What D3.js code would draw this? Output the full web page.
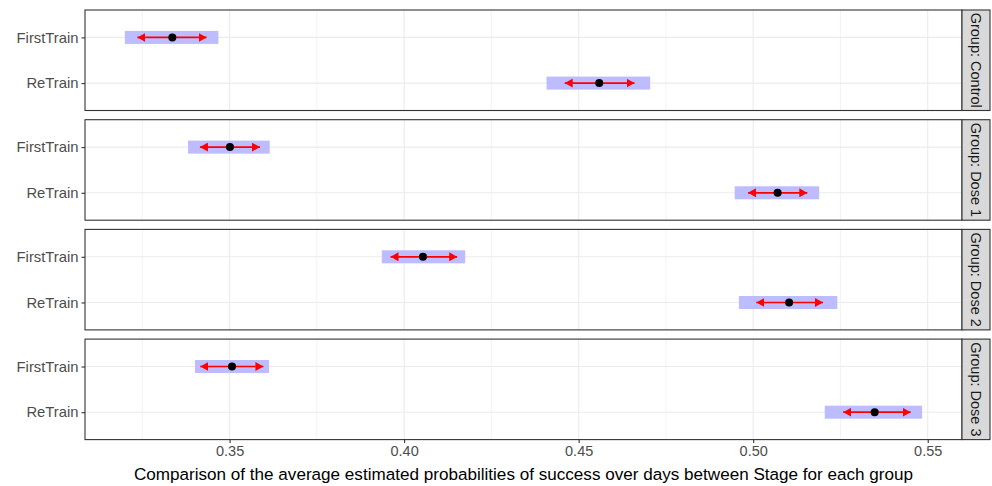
<!DOCTYPE html>
<html>
<head>
<meta charset="utf-8">
<script src="https://cdn.jsdelivr.net/npm/d3@7"></script>
<style>
  html, body { margin: 0; padding: 0; background: #fff; }
  svg { display: block; font-family: "Liberation Sans", Arial, sans-serif; }
</style>
</head>
<body>
<svg id="chart" width="992" height="486"></svg>
<script>
// ---- Data ----
const groups = ["Control", "Dose 1", "Dose 2", "Dose 3"];
const stages = ["FirstTrain", "ReTrain"];
// rows ordered: group x stage
const estimate  = [0.3336, 0.4559, 0.3501, 0.5070, 0.4054, 0.5103, 0.3507, 0.5348];
const lowerCL   = [0.3200, 0.4408, 0.3381, 0.4947, 0.3936, 0.4959, 0.3401, 0.5205];
const upperCL   = [0.3468, 0.4705, 0.3615, 0.5189, 0.4175, 0.5241, 0.3613, 0.5484];
const arrowLow  = [0.3236, 0.4460, 0.3415, 0.4985, 0.3961, 0.5009, 0.3416, 0.5258];
const arrowHigh = [0.3434, 0.4660, 0.3587, 0.5155, 0.4152, 0.5200, 0.3597, 0.5451];
const xTicks = [0.35, 0.40, 0.45, 0.50, 0.55];
const xTickLabels = ["0.35", "0.40", "0.45", "0.50", "0.55"];
const xMinor = [0.325, 0.375, 0.425, 0.475, 0.525];
const xTitle = "Comparison of the average estimated probabilities of success over days between Stage for each group";

const rows = [];
groups.forEach((g, gi) => stages.forEach((s, si) => {
  const i = gi * stages.length + si;
  rows.push({group: g, stage: s, est: estimate[i], lo: lowerCL[i], hi: upperCL[i], alo: arrowLow[i], ahi: arrowHigh[i]});
}));

// ---- Layout ----
const panelLeft = 85, panelRight = 962;
const panelTop0 = 10, panelStep = 109.7, panelH = 100.5;
const stripW = 28;

const svg = d3.select("#chart");

const dmin = d3.min(lowerCL), dmax = d3.max(upperCL);
const ex = (dmax - dmin) * 0.05;
const x = d3.scaleLinear().domain([dmin - ex, dmax + ex]).range([panelLeft, panelRight]);

const defs = svg.append("defs");
defs.append("marker")
  .attr("id", "arrowhead")
  .attr("viewBox", "0 0 8 9")
  .attr("refX", 8).attr("refY", 4.5)
  .attr("markerWidth", 8).attr("markerHeight", 9)
  .attr("markerUnits", "userSpaceOnUse")
  .attr("orient", "auto-start-reverse")
  .append("path").attr("d", "M0,0 L8,4.5 L0,9 Z").attr("fill", "#FF0000");

groups.forEach((g, gi) => {
  const top = panelTop0 + gi * panelStep;
  const y = d3.scalePoint().domain(stages).range([top, top + panelH]).padding(0.6);
  const p = svg.append("g");

  // panel background
  p.append("rect").attr("x", panelLeft).attr("y", top).attr("width", panelRight - panelLeft).attr("height", panelH).attr("fill", "#fff");

  // minor grid
  p.selectAll(".minor").data(xMinor).join("line")
    .attr("x1", d => x(d)).attr("x2", d => x(d))
    .attr("y1", top).attr("y2", top + panelH)
    .attr("stroke", "#EBEBEB").attr("stroke-width", 0.6);
  // major grid
  p.selectAll(".majx").data(xTicks).join("line")
    .attr("x1", d => x(d)).attr("x2", d => x(d))
    .attr("y1", top).attr("y2", top + panelH)
    .attr("stroke", "#EBEBEB").attr("stroke-width", 1.1);
  p.selectAll(".majy").data(stages).join("line")
    .attr("x1", panelLeft).attr("x2", panelRight)
    .attr("y1", d => y(d)).attr("y2", d => y(d))
    .attr("stroke", "#EBEBEB").attr("stroke-width", 1.1);

  const data = rows.filter(r => r.group === g);

  // CI rects
  p.selectAll(".ci").data(data).join("rect")
    .attr("x", d => x(d.lo)).attr("width", d => x(d.hi) - x(d.lo))
    .attr("y", d => y(d.stage) - 6.5).attr("height", 13)
    .attr("fill", "#BCBCFF");

  // arrows
  p.selectAll(".arr").data(data).join("line")
    .attr("x1", d => x(d.alo)).attr("x2", d => x(d.ahi))
    .attr("y1", d => y(d.stage)).attr("y2", d => y(d.stage))
    .attr("stroke", "#FF0000").attr("stroke-width", 1.7)
    .attr("marker-start", "url(#arrowhead)").attr("marker-end", "url(#arrowhead)");

  // points
  p.selectAll(".pt").data(data).join("circle")
    .attr("cx", d => x(d.est)).attr("cy", d => y(d.stage)).attr("r", 4)
    .attr("fill", "#000");

  // panel border
  p.append("rect").attr("x", panelLeft).attr("y", top).attr("width", panelRight - panelLeft).attr("height", panelH)
    .attr("fill", "none").attr("stroke", "#333333").attr("stroke-width", 1.1);

  // y axis
  const yAxis = d3.axisLeft(y).tickSize(3.5).tickPadding(3);
  const ya = svg.append("g").attr("transform", `translate(${panelLeft},0)`).call(yAxis);
  ya.select(".domain").remove();
  ya.selectAll(".tick line").attr("stroke", "#333333").attr("stroke-width", 1.1);
  ya.selectAll(".tick text").attr("fill", "#4D4D4D").style("font-size", "14.8px")
    .style("font-family", "'Liberation Sans', Arial, sans-serif");

  // strip
  p.append("rect").attr("x", panelRight).attr("y", top).attr("width", stripW).attr("height", panelH)
    .attr("fill", "#D9D9D9").attr("stroke", "#333333").attr("stroke-width", 1.1);
  p.append("text")
    .attr("transform", `translate(${panelRight + stripW / 2},${top + panelH / 2}) rotate(90)`)
    .attr("text-anchor", "middle").attr("dy", "0.35em")
    .attr("fill", "#1A1A1A").style("font-size", "14.5px")
    .text("Group: " + g);
});

// x axis at the bottom
const bottom = panelTop0 + (groups.length - 1) * panelStep + panelH;
const xAxis = d3.axisBottom(x).tickValues(xTicks).tickFormat((d, i) => xTickLabels[i]).tickSize(3.5).tickPadding(3);
const xa = svg.append("g").attr("transform", `translate(0,${bottom})`).call(xAxis);
xa.select(".domain").remove();
xa.selectAll(".tick line").attr("stroke", "#333333").attr("stroke-width", 1.1);
xa.selectAll(".tick text").attr("fill", "#4D4D4D").style("font-size", "14.5px")
  .style("font-family", "'Liberation Sans', Arial, sans-serif");

svg.append("text")
  .attr("x", (panelLeft + panelRight) / 2).attr("y", 480)
  .attr("text-anchor", "middle").attr("fill", "#000").style("font-size", "17.1px")
  .text(xTitle);
</script>
</body>
</html>
